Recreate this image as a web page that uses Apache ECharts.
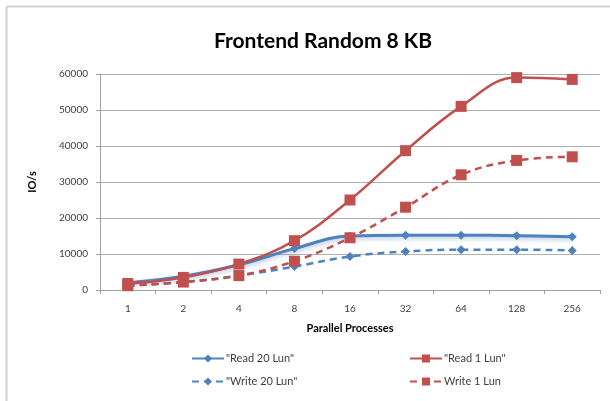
<!DOCTYPE html>
<html><head><meta charset="utf-8">
<script src="https://cdn.jsdelivr.net/npm/echarts@6/dist/echarts.min.js"></script>
<style>html,body{margin:0;padding:0;background:#fff}#c{width:610px;height:401px}</style>
</head><body><div id="c"></div>
<script>
var categories = ['1','2','4','8','16','32','64','128','256'];
var read20 = [2000, 3800, 7000, 11500, 15000, 15200, 15200, 15100, 14800];
var read1 = [1800, 3500, 7200, 13700, 25000, 38700, 51000, 59000, 58500];
var write20 = [1300, 2200, 4000, 6500, 9300, 10700, 11200, 11200, 11000];
var write1 = [1200, 2200, 4000, 8000, 14500, 23000, 32000, 36000, 37000];
var names = ['"Read 20 Lun"', '"Read 1 Lun"', '"Write 20 Lun"', 'Write 1 Lun'];
var BLUE = '#4f81bd', RED = '#c0504d';
var FONT = 'Lato, "Open Sans", sans-serif';
var chart = echarts.init(document.getElementById('c'), null, {renderer:'canvas'});
function leg(name, left, top){
  return {data:[name], left:left, top:top, itemWidth:32, itemHeight:10, itemGap:0,
    textStyle:{fontFamily:FONT, fontSize:11, color:'#404040', padding:[0,0,0,-3]}, selectedMode:false};
}
chart.setOption({
  animation:false,
  graphic:[
    {type:'line', shape:{x1:6.5,y1:6.5,x2:610,y2:6.5}, style:{stroke:'#d0d0d0', lineWidth:2}},
    {type:'line', shape:{x1:6.5,y1:6.5,x2:6.5,y2:401}, style:{stroke:'#d0d0d0', lineWidth:2}}
  ],
  title:{text:'Frontend Random 8 KB', left:318, textAlign:'center', top:26,
    textStyle:{fontFamily:FONT, fontSize:21, fontWeight:'bold', color:'#000'}},
  grid:{left:100, right:10, top:74, bottom:111, containLabel:false},
  legend:[leg(names[0],186,348), leg(names[1],404,348), leg(names[2],186,371), leg(names[3],404,371)],
  xAxis:{type:'category', data:categories, boundaryGap:true,
    name:'Parallel Processes', nameLocation:'middle', nameGap:33,
    nameTextStyle:{fontFamily:FONT, fontSize:11, fontWeight:'bold', color:'#000'},
    axisLine:{lineStyle:{color:'#a0a0a0'}}, axisTick:{show:true, length:4, lineStyle:{color:'#a0a0a0'}},
    axisLabel:{fontFamily:FONT, fontSize:10, color:'#404040', margin:14}},
  yAxis:{type:'value', min:0, max:60000, interval:10000,
    name:'IO/s', nameLocation:'middle', nameGap:62, nameRotate:90,
    nameTextStyle:{fontFamily:FONT, fontSize:11, fontWeight:'bold', color:'#000'},
    axisLine:{show:true, lineStyle:{color:'#a0a0a0'}}, axisTick:{show:true, length:4, lineStyle:{color:'#a0a0a0'}},
    splitLine:{lineStyle:{color:'#b0b0b0'}},
    axisLabel:{fontFamily:FONT, fontSize:10, color:'#404040', margin:12, formatter:function(v){return String(v);}}},
  series:[
    {name:names[0], type:'line', data:read20, smooth:0.4, symbol:'diamond', symbolSize:9,
      itemStyle:{color:BLUE}, lineStyle:{color:BLUE, width:3, shadowColor:'rgba(79,129,189,0.45)', shadowBlur:4, shadowOffsetY:2}, z:3},
    {name:names[1], type:'line', data:read1, smooth:0.4, symbol:'rect', symbolSize:11,
      itemStyle:{color:RED}, lineStyle:{color:RED, width:2.5}, z:4},
    {name:names[2], type:'line', data:write20, smooth:0.4, symbol:'diamond', symbolSize:9,
      itemStyle:{color:BLUE}, lineStyle:{color:BLUE, width:2.5, type:[7,5]}, z:3},
    {name:names[3], type:'line', data:write1, smooth:0.4, symbol:'rect', symbolSize:11,
      itemStyle:{color:RED}, lineStyle:{color:RED, width:2.5, type:[7,5]}, z:4}
  ]
});
</script></body></html>
